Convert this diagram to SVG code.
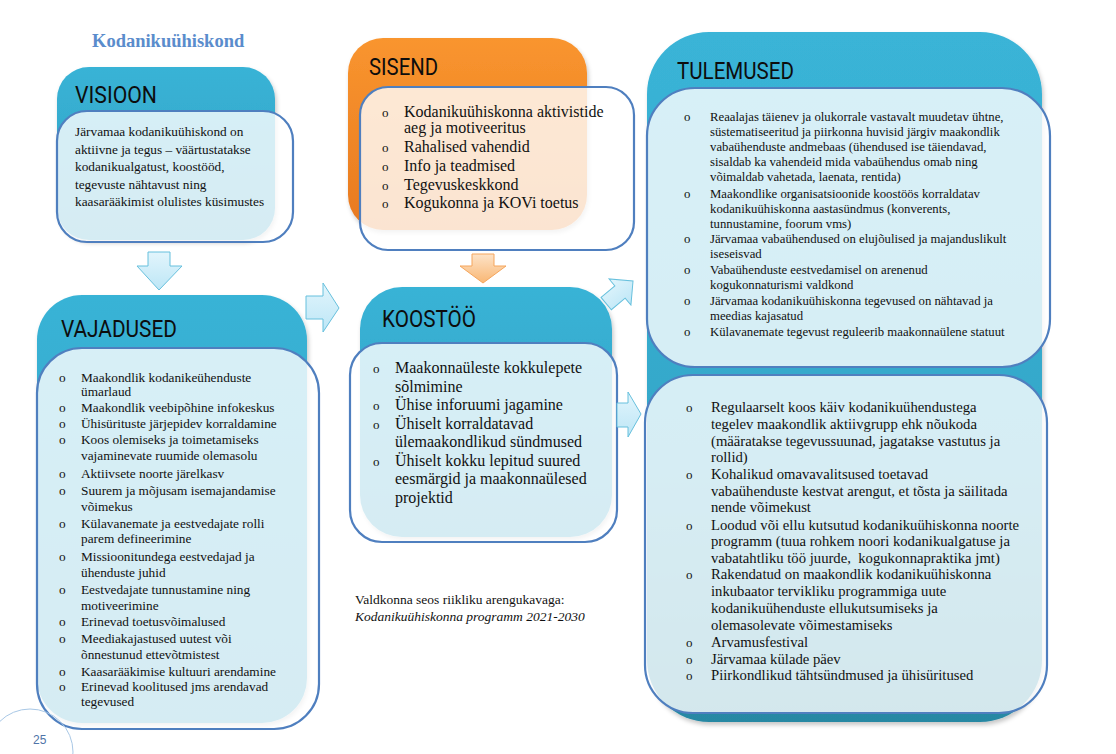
<svg xmlns="http://www.w3.org/2000/svg" width="1116" height="754" viewBox="0 0 1116 754">
<defs>
<linearGradient id="teal" x1="0" y1="0" x2="0" y2="1">
<stop offset="0" stop-color="#39b3d6"/><stop offset="1" stop-color="#2f9fc2"/>
</linearGradient>
<linearGradient id="tealT" x1="0" y1="0" x2="0" y2="1">
<stop offset="0" stop-color="#3ab4d7"/><stop offset="0.6" stop-color="#33a7c9"/><stop offset="1" stop-color="#2888a3"/>
</linearGradient>
<linearGradient id="orange" x1="0" y1="0" x2="0" y2="1">
<stop offset="0" stop-color="#f9952f"/><stop offset="1" stop-color="#e8791f"/>
</linearGradient>
<linearGradient id="arrB" x1="0" y1="0" x2="0" y2="1">
<stop offset="0" stop-color="#e2f5fc"/><stop offset="1" stop-color="#bde6f6"/>
</linearGradient>
<linearGradient id="arrO" x1="0" y1="0" x2="0" y2="1">
<stop offset="0" stop-color="#fde3c8"/><stop offset="1" stop-color="#f9b774"/>
</linearGradient>
<filter id="sh" x="-10%" y="-10%" width="120%" height="120%">
<feDropShadow dx="1.5" dy="3" stdDeviation="2" flood-color="#000" flood-opacity="0.22"/>
</filter>
<style>
.inner{fill:#ffffff;fill-opacity:0.8;stroke:#4f7fbf;stroke-width:2.2}
.hdr{font-family:"Liberation Sans Narrow","Roboto","Liberation Sans",sans-serif;font-size:24px;fill:#0d0d0d}
.t{font-family:"Liberation Serif","Times New Roman",serif;fill:#111}
.sv{font-size:13.3px}
.su{font-size:12.75px}
.sl{font-size:14.7px}
.sb{font-size:16px}
.b{font-size:13px}
.arrB{fill:url(#arrB);stroke:#67c0dd;stroke-width:1}
.arrO{fill:url(#arrO);stroke:#f5a55c;stroke-width:1}
</style>
</defs>
<rect width="1116" height="754" fill="#ffffff"/>

<text x="92" y="47" font-family="Liberation Serif, serif" font-weight="bold" font-size="18.5" fill="#5a8ccc">Kodanikuühiskond</text>

<g id="visioon">
<rect x="57" y="67" width="218" height="173" rx="32" fill="url(#teal)" filter="url(#sh)"/>
<text class="hdr" x="75" y="103" textLength="82" lengthAdjust="spacingAndGlyphs">VISIOON</text>
<rect class="inner" x="57" y="111" width="236" height="131" rx="30"/>
<g class="t sv">
<text x="75" y="136">Järvamaa kodanikuühiskond on</text>
<text x="75" y="153.5">aktiivne ja tegus – väärtustatakse</text>
<text x="75" y="171">kodanikualgatust, koostööd,</text>
<text x="75" y="188.5">tegevuste nähtavust ning</text>
<text x="75" y="206">kaasarääkimist olulistes küsimustes</text>
</g>
</g>

<g id="vajadused">
<rect x="37" y="295" width="270" height="428" rx="45" fill="url(#teal)" filter="url(#sh)"/>
<text class="hdr" x="61" y="337" textLength="116" lengthAdjust="spacingAndGlyphs">VAJADUSED</text>
<rect class="inner" x="37" y="348" width="282" height="381" rx="45"/>
<g class="t sv">
<text x="59" y="382">o</text><text x="81" y="382">Maakondlik kodanikeühenduste</text>
<text x="81" y="396">ümarlaud</text>
<text x="59" y="411.5">o</text><text x="81" y="411.5">Maakondlik veebipõhine infokeskus</text>
<text x="59" y="427.5">o</text><text x="81" y="427.5">Ühisürituste järjepidev korraldamine</text>
<text x="59" y="443.5">o</text><text x="81" y="443.5">Koos olemiseks ja toimetamiseks</text>
<text x="81" y="459.5">vajaminevate ruumide olemasolu</text>
<text x="59" y="477.5">o</text><text x="81" y="477.5">Aktiivsete noorte järelkasv</text>
<text x="59" y="494.5">o</text><text x="81" y="494.5">Suurem ja mõjusam isemajandamise</text>
<text x="81" y="510.5">võimekus</text>
<text x="59" y="527.5">o</text><text x="81" y="527.5">Külavanemate ja eestvedajate rolli</text>
<text x="81" y="543">parem defineerimine</text>
<text x="59" y="560.5">o</text><text x="81" y="560.5">Missioonitundega eestvedajad ja</text>
<text x="81" y="576.5">ühenduste juhid</text>
<text x="59" y="593.5">o</text><text x="81" y="593.5">Eestvedajate tunnustamine ning</text>
<text x="81" y="609.5">motiveerimine</text>
<text x="59" y="626">o</text><text x="81" y="626">Erinevad toetusvõimalused</text>
<text x="59" y="642.5">o</text><text x="81" y="642.5">Meediakajastused uutest või</text>
<text x="81" y="658.5">õnnestunud ettevõtmistest</text>
<text x="59" y="676">o</text><text x="81" y="676">Kaasarääkimise kultuuri arendamine</text>
<text x="59" y="690.5">o</text><text x="81" y="690.5">Erinevad koolitused jms arendavad</text>
<text x="81" y="705.5">tegevused</text>
</g>
</g>

<g id="sisend">
<rect x="348" y="38" width="239" height="192" rx="35" fill="url(#orange)" filter="url(#sh)"/>
<text class="hdr" x="369" y="75" textLength="69" lengthAdjust="spacingAndGlyphs">SISEND</text>
<rect class="inner" x="360" y="87" width="274" height="163" rx="28"/>
<g class="t sb">
<text class="b" x="382" y="117">o</text><text x="404" y="117">Kodanikuühiskonna aktivistide</text>
<text x="404" y="133">aeg ja motiveeritus</text>
<text class="b" x="382" y="152">o</text><text x="404" y="152">Rahalised vahendid</text>
<text class="b" x="382" y="171">o</text><text x="404" y="171">Info ja teadmised</text>
<text class="b" x="382" y="189.5">o</text><text x="404" y="189.5">Tegevuskeskkond</text>
<text class="b" x="382" y="208">o</text><text x="404" y="208">Kogukonna ja KOVi toetus</text>
</g>
</g>

<g id="koostoo">
<rect x="360" y="287" width="252" height="250" rx="42" fill="url(#teal)" filter="url(#sh)"/>
<text class="hdr" x="382" y="327" textLength="94" lengthAdjust="spacingAndGlyphs">KOOSTÖÖ</text>
<rect class="inner" x="350" y="343" width="267" height="199" rx="32"/>
<g class="t sb">
<text class="b" x="373" y="373">o</text><text x="395" y="373">Maakonnaüleste kokkulepete</text>
<text x="395" y="391.5">sõlmimine</text>
<text class="b" x="373" y="410">o</text><text x="395" y="410">Ühise inforuumi jagamine</text>
<text class="b" x="373" y="428.5">o</text><text x="395" y="428.5">Ühiselt korraldatavad</text>
<text x="395" y="447">ülemaakondlikud sündmused</text>
<text class="b" x="373" y="465.5">o</text><text x="395" y="465.5">Ühiselt kokku lepitud suured</text>
<text x="395" y="484">eesmärgid ja maakonnaülesed</text>
<text x="395" y="502.5">projektid</text>
</g>
</g>

<text class="t" x="355" y="604" font-size="13.5">Valdkonna seos riikliku arengukavaga:</text>
<text class="t" x="355" y="621" font-size="13.5" font-style="italic">Kodanikuühiskonna programm 2021-2030</text>

<g id="tulemused">
<rect x="647" y="32" width="395" height="690" rx="62" fill="url(#tealT)" filter="url(#sh)"/>
<text class="hdr" x="677" y="79" textLength="117" lengthAdjust="spacingAndGlyphs">TULEMUSED</text>
<rect class="inner" x="647" y="88" width="403" height="279" rx="48"/>
<g class="t su">
<text x="684" y="120.5">o</text><text x="710" y="120.5">Reaalajas täienev ja olukorrale vastavalt muudetav ühtne,</text>
<text x="710" y="135.5">süstematiseeritud ja piirkonna huvisid järgiv maakondlik</text>
<text x="710" y="150.5">vabaühenduste andmebaas (ühendused ise täiendavad,</text>
<text x="710" y="165.5">sisaldab ka vahendeid mida vabaühendus omab ning</text>
<text x="710" y="181">võimaldab vahetada, laenata, rentida)</text>
<text x="684" y="197.5">o</text><text x="710" y="197.5">Maakondlike organisatsioonide koostöös korraldatav</text>
<text x="710" y="212.5">kodanikuühiskonna aastasündmus (konverents,</text>
<text x="710" y="227.5">tunnustamine, foorum vms)</text>
<text x="684" y="242.5">o</text><text x="710" y="242.5">Järvamaa vabaühendused on elujõulised ja majanduslikult</text>
<text x="710" y="257.5">iseseisvad</text>
<text x="684" y="274">o</text><text x="710" y="274">Vabaühenduste eestvedamisel on arenenud</text>
<text x="710" y="288.5">kogukonnaturismi valdkond</text>
<text x="684" y="304.5">o</text><text x="710" y="304.5">Järvamaa kodanikuühiskonna tegevused on nähtavad ja</text>
<text x="710" y="319.5">meedias kajasatud</text>
<text x="684" y="335.5">o</text><text x="710" y="335.5">Külavanemate tegevust reguleerib maakonnaülene statuut</text>
</g>
<rect class="inner" x="645" y="375" width="402" height="338" rx="48"/>
<g class="t sl">
<text class="b" x="686" y="411.5">o</text><text x="711" y="411.5">Regulaarselt koos käiv kodanikuühendustega</text>
<text x="711" y="428.5">tegelev maakondlik aktiivgrupp ehk nõukoda</text>
<text x="711" y="445.5">(määratakse tegevussuunad, jagatakse vastutus ja</text>
<text x="711" y="462">rollid)</text>
<text class="b" x="686" y="478.5">o</text><text x="711" y="478.5">Kohalikud omavavalitsused toetavad</text>
<text x="711" y="495.5">vabaühenduste kestvat arengut, et tõsta ja säilitada</text>
<text x="711" y="512">nende võimekust</text>
<text class="b" x="686" y="529.5">o</text><text x="711" y="529.5">Loodud või ellu kutsutud kodanikuühiskonna noorte</text>
<text x="711" y="546">programm (tuua rohkem noori kodanikualgatuse ja</text>
<text x="711" y="562.5" xml:space="preserve">vabatahtliku töö juurde,  kogukonnapraktika jmt)</text>
<text class="b" x="686" y="579">o</text><text x="711" y="579">Rakendatud on maakondlik kodanikuühiskonna</text>
<text x="711" y="596">inkubaator tervikliku programmiga uute</text>
<text x="711" y="613">kodanikuühenduste ellukutsumiseks ja</text>
<text x="711" y="630">olemasolevate võimestamiseks</text>
<text class="b" x="686" y="647">o</text><text x="711" y="647">Arvamusfestival</text>
<text class="b" x="686" y="663.5">o</text><text x="711" y="663.5">Järvamaa külade päev</text>
<text class="b" x="686" y="679.5">o</text><text x="711" y="679.5">Piirkondlikud tähtsündmused ja ühisüritused</text>
</g>
</g>

<g id="connectors">
<polygon class="arrB" points="148,252 170,252 170,266 182,266 159,290 137,266 148,266"/>
<polygon class="arrB" points="306,296 323,296 323,283 339,308 323,332 323,319 306,319"/>
<polygon class="arrO" points="472,254 494,254 494,266 506,266 483,283 460,266 472,266"/>
<polygon class="arrB" transform="translate(620,292) rotate(-40)" points="-18,-8 0,-8 0,-17 17,0 0,17 0,8 -18,8"/>
<polygon class="arrB" points="617,403 628,403 628,392 641,414 628,437 628,427 617,427"/>
</g>

<g id="page">
<circle cx="30" cy="752" r="43" fill="none" stroke="#a9c8e6" stroke-width="1"/>
<text x="33" y="744" font-family="Liberation Sans, sans-serif" font-size="12" fill="#4f74a8">25</text>
</g>
</svg>
